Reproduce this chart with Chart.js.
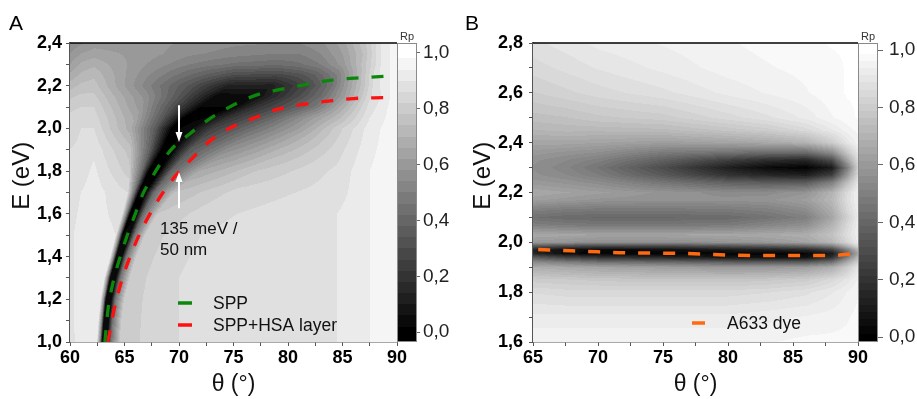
<!DOCTYPE html>
<html><head><meta charset="utf-8">
<script src="https://cdn.jsdelivr.net/npm/chart.js@4.4.1/dist/chart.umd.min.js"></script>
<style>
html,body{margin:0;padding:0;background:#fff;width:917px;height:399px;overflow:hidden}
#wa{position:absolute;left:0;top:0;width:460px;height:399px}
#wb{position:absolute;left:460px;top:0;width:457px;height:399px}
canvas{display:block}
</style></head><body>
<div id="wa"><canvas id="ca" width="460" height="399" style="width:460px;height:399px"></canvas></div>
<div id="wb"><canvas id="cb" width="457" height="399" style="width:457px;height:399px"></canvas></div>
<script>
// ---------------- DATA ----------------
// Panel A : dispersion curves
const sppTheta = [63.2, 63.5, 64.0, 64.6, 65.2, 66.0, 66.7, 67.2, 68.3, 69.5, 70.7, 72.2, 74.1, 77.0, 79.3, 81.6, 83.9, 86.2, 88.9];
const sppE     = [1.0, 1.157, 1.289, 1.398, 1.492, 1.601, 1.695, 1.742, 1.835, 1.913, 1.963, 2.023, 2.085, 2.155, 2.183, 2.205, 2.225, 2.236, 2.244];
const hsaTheta = [63.45, 63.7, 64.1, 64.75, 65.5, 66.4, 67.35, 68.26, 69.6, 71.2, 72.9, 74.6, 77.0, 79.1, 81.4, 83.7, 86.0, 88.8];
const hsaE     = [1.0, 1.06, 1.164, 1.289, 1.398, 1.508, 1.601, 1.679, 1.773, 1.859, 1.944, 2.0, 2.051, 2.09, 2.113, 2.128, 2.14, 2.144];
// Panel B : dye line
const dyeTheta = [65.4, 68, 70, 72, 74, 76, 78, 80, 82, 84, 86, 88, 89.7];
const dyeE     = [1.971, 1.966, 1.962, 1.958, 1.957, 1.956, 1.953, 1.949, 1.947, 1.947, 1.947, 1.947, 1.955];

// Panel A : reflectivity map Rp, one row per energy, knots (theta) per row
const energiesA = [1.0,1.1,1.2,1.3,1.4,1.5,1.6,1.7,1.8,1.9,2.0,2.05,2.1,2.15,2.2,2.25,2.3,2.35,2.4];
const knotThetaA = [
 [60,61,62.2,62.45,62.75,62.95,63.4,63.75,64.6,70,84.5,87.5,90],
 [60,61,62.2,62.6,62.9,63.1,63.55,63.9,64.75,70,84.5,87.5,90],
 [60,61,62.2,62.8,63.1,63.3,63.8,64.15,65.0,70,84.5,87.5,90],
 [60,61,62.2,63.15,63.45,63.7,64.2,64.6,65.5,70,84.5,87.5,90],
 [60,61,62.2,63.7,64.0,64.25,64.75,65.15,66.1,71,84.5,87.5,90],
 [60,61,62.2,64.2,64.55,64.8,65.45,65.9,66.9,72,84.5,87.5,90],
 [60,61,62.2,64.8,65.2,65.5,66.15,66.7,68.0,73,84.5,87.5,90],
 [60,61,62.2,65.3,65.9,66.3,66.95,67.7,69.5,75,84.5,87.5,90],
 [60,61,62.2,65.4,66.6,67.2,68.25,69.3,71.8,77,84.5,87.5,90],
 [60,61,62.2,65.5,67.3,68.4,69.5,71.0,74.5,79,84.5,87.5,90],
 [60,61,62.2,65.5,67.8,69.3,71.0,73.0,77.0,81,84.5,87.5,90],
 [60,61,62.2,66,68.5,70.4,72.4,74.5,78.5,82,84.5,87.5,90],
 [60,61,62.2,66.5,69.5,72.0,74.8,77.0,80,82.5,85,87.5,90],
 [60,61,62.2,67,70.5,73.5,77.0,79.0,81,83,85,87.5,90],
 [60,61,62.2,67,71,74.5,78.5,80.5,82,84,85.5,88,90],
 [60,61,62.2,67,71,75,79,81,82.5,84.5,86,88,90],
 [60,61,62.2,67,71,75,79,81,83,85,86.5,88.5,90],
 [60,61,62.2,67,71,75,79,81,83,85,87,88.5,90],
 [60,61,62.2,67,71,75,79,81,83,85,87,88.5,90]
];
const rpA = [
 [0.89,0.91,0.93,0.92,0.55,0.04,0.06,0.45,0.8,0.86,0.9,0.94,0.97],
 [0.89,0.92,0.93,0.92,0.55,0.03,0.05,0.45,0.8,0.86,0.9,0.94,0.97],
 [0.89,0.92,0.93,0.92,0.55,0.02,0.04,0.45,0.8,0.86,0.9,0.94,0.97],
 [0.89,0.92,0.93,0.92,0.55,0.02,0.04,0.45,0.8,0.86,0.9,0.94,0.97],
 [0.89,0.92,0.93,0.91,0.55,0.02,0.03,0.45,0.8,0.86,0.9,0.94,0.97],
 [0.89,0.92,0.93,0.9,0.52,0.02,0.03,0.45,0.8,0.86,0.9,0.94,0.97],
 [0.88,0.91,0.92,0.88,0.48,0.01,0.02,0.42,0.78,0.85,0.9,0.94,0.97],
 [0.87,0.9,0.92,0.86,0.44,0.01,0.02,0.42,0.74,0.83,0.88,0.94,0.97],
 [0.86,0.88,0.91,0.8,0.42,0.01,0.02,0.4,0.66,0.78,0.87,0.94,0.97],
 [0.86,0.87,0.89,0.76,0.38,0.01,0.02,0.35,0.56,0.7,0.84,0.93,0.97],
 [0.84,0.86,0.86,0.68,0.36,0.01,0.03,0.25,0.45,0.62,0.8,0.92,0.97],
 [0.83,0.84,0.84,0.65,0.34,0.01,0.02,0.2,0.4,0.6,0.72,0.9,0.97],
 [0.81,0.82,0.82,0.6,0.3,0.02,0.02,0.2,0.34,0.47,0.68,0.88,0.97],
 [0.77,0.79,0.79,0.56,0.3,0.03,0.05,0.18,0.3,0.42,0.6,0.85,0.97],
 [0.72,0.75,0.76,0.52,0.33,0.13,0.12,0.22,0.3,0.45,0.62,0.88,0.97],
 [0.67,0.71,0.73,0.55,0.42,0.3,0.28,0.32,0.38,0.5,0.66,0.88,0.97],
 [0.62,0.67,0.69,0.58,0.5,0.45,0.43,0.45,0.5,0.6,0.72,0.9,0.97],
 [0.58,0.62,0.64,0.6,0.55,0.52,0.5,0.5,0.54,0.62,0.75,0.9,0.97],
 [0.55,0.57,0.6,0.6,0.57,0.55,0.54,0.54,0.57,0.64,0.77,0.9,0.97]
];

// Panel B : reflectivity map Rp (regular grid)
const thetaB = [65, 67.5, 70, 75, 80, 83, 86, 88, 89.2, 90];
const energiesB = [1.6,1.7,1.8,1.85,1.9,1.92,1.94,1.955,1.97,1.985,2.0,2.03,2.07,2.1,2.13,2.17,2.2,2.24,2.27,2.3,2.33,2.36,2.4,2.45,2.5,2.6,2.7,2.8];
const rpB = [
 [0.96,0.96,0.96,0.96,0.96,0.96,0.97,0.97,0.97,0.98],
 [0.92,0.92,0.92,0.92,0.92,0.93,0.94,0.95,0.96,0.97],
 [0.86,0.85,0.85,0.85,0.85,0.86,0.88,0.91,0.94,0.96],
 [0.8,0.79,0.78,0.77,0.77,0.78,0.8,0.85,0.9,0.94],
 [0.68,0.66,0.64,0.62,0.6,0.6,0.62,0.68,0.8,0.9],
 [0.55,0.5,0.45,0.42,0.38,0.36,0.36,0.45,0.68,0.82],
 [0.35,0.25,0.2,0.15,0.08,0.06,0.06,0.18,0.5,0.72],
 [0.15,0.05,0.02,0.01,0.02,0.02,0.03,0.1,0.4,0.65],
 [0.13,0.05,0.03,0.05,0.1,0.12,0.15,0.25,0.5,0.72],
 [0.35,0.3,0.28,0.28,0.32,0.35,0.4,0.5,0.7,0.85],
 [0.6,0.58,0.56,0.56,0.58,0.6,0.64,0.72,0.84,0.92],
 [0.66,0.65,0.64,0.64,0.65,0.66,0.68,0.76,0.87,0.93],
 [0.5,0.48,0.47,0.47,0.48,0.52,0.56,0.7,0.85,0.93],
 [0.44,0.42,0.41,0.41,0.42,0.45,0.5,0.65,0.82,0.92],
 [0.5,0.48,0.47,0.47,0.48,0.5,0.55,0.68,0.85,0.93],
 [0.62,0.6,0.58,0.57,0.57,0.58,0.62,0.72,0.87,0.94],
 [0.66,0.64,0.62,0.58,0.55,0.55,0.58,0.7,0.86,0.94],
 [0.6,0.58,0.55,0.46,0.38,0.36,0.36,0.5,0.75,0.9],
 [0.57,0.54,0.49,0.35,0.2,0.15,0.12,0.25,0.6,0.85],
 [0.56,0.52,0.46,0.3,0.12,0.04,0.01,0.1,0.5,0.82],
 [0.57,0.54,0.5,0.38,0.25,0.18,0.15,0.3,0.65,0.86],
 [0.6,0.58,0.56,0.48,0.45,0.42,0.42,0.55,0.78,0.9],
 [0.65,0.65,0.64,0.62,0.64,0.66,0.7,0.8,0.9,0.95],
 [0.71,0.72,0.72,0.73,0.77,0.8,0.85,0.91,0.95,0.97],
 [0.75,0.76,0.78,0.8,0.85,0.88,0.92,0.96,0.98,0.99],
 [0.81,0.83,0.85,0.88,0.92,0.94,0.96,0.98,0.99,0.99],
 [0.85,0.87,0.89,0.92,0.95,0.96,0.97,0.98,0.99,0.99],
 [0.88,0.9,0.92,0.94,0.96,0.97,0.98,0.99,0.99,0.99]
];

// Tick positions and labels
const xTicksA = [60,62.5,65,67.5,70,72.5,75,77.5,80,82.5,85,87.5,90];
const xLabelsA = [60,65,70,75,80,85,90];
const yTicksA = [1.0,1.1,1.2,1.3,1.4,1.5,1.6,1.7,1.8,1.9,2.0,2.1,2.2,2.3,2.4];
const yLabelsA = [1.0,1.2,1.4,1.6,1.8,2.0,2.2,2.4];
const xTicksB = [65,67.5,70,72.5,75,77.5,80,82.5,85,87.5,90];
const xLabelsB = [65,70,75,80,85,90];
const yTicksB = [1.6,1.7,1.8,1.9,2.0,2.1,2.2,2.3,2.4,2.5,2.6,2.7,2.8];
const yLabelsB = [1.6,1.8,2.0,2.2,2.4,2.6,2.8];
const cbTicks = [0.0,0.2,0.4,0.6,0.8,1.0];

// Annotations (panel A), in data units
const arrowTheta = [70, 70];
const arrowFromE = [2.108, 1.626];
const arrowToE   = [1.936, 1.796];
const noteLines  = ['135 meV /', '50 nm'];
const noteTheta  = 68.26;
const noteE      = [1.504, 1.406];

// ---------------- DRAWING ----------------
const FONT = "'Liberation Sans', Arial, Helvetica, sans-serif";
const lerp = (a,b,t)=>a+(b-a)*t;
const clamp = (v,a,b)=>Math.max(a,Math.min(b,v));
const fmt = v => v.toFixed(1).replace('.', ',');
const has = (arr, v) => arr.some(a => Math.abs(a - v) < 1e-9);
const pts = (xs, ys) => xs.map((x,i)=>({x:x, y:ys[i]}));

function drawMesh(chart, energies, thetaRows, valueRows, step){
  const xs = chart.scales.x, ys = chart.scales.y, a = chart.chartArea;
  const L = Math.round(a.left), T = Math.round(a.top);
  const w = Math.round(a.right) - L, h = Math.round(a.bottom) - T;
  if (!chart.$heat || chart.$heat.width !== w || chart.$heat.height !== h){
    const off = document.createElement('canvas'); off.width = w; off.height = h;
    const octx = off.getContext('2d'); const img = octx.createImageData(w, h);
    const n = energies.length;
    const X = []; for (let i=0;i<w;i++) X.push(xs.getValueForPixel(L+i+0.5));
    for (let j=0;j<h;j++){
      const E = ys.getValueForPixel(T+j+0.5);
      let r = 0; while (r < n-2 && E > energies[r+1]) r++;
      const t = clamp((E-energies[r])/(energies[r+1]-energies[r]),0,1);
      const K = thetaRows[r].length, th = [], vv = [];
      for (let k=0;k<K;k++){ th.push(lerp(thetaRows[r][k],thetaRows[r+1][k],t)); vv.push(lerp(valueRows[r][k],valueRows[r+1][k],t)); }
      let k = 0;
      for (let i=0;i<w;i++){
        while (k < K-2 && X[i] > th[k+1]) k++;
        const u = clamp((X[i]-th[k])/(th[k+1]-th[k]),0,1);
        let v = lerp(vv[k],vv[k+1],u);
        v = Math.round(v/step)*step;
        const g = clamp(Math.round(v*255),0,255);
        const p = (j*w+i)*4; img.data[p]=g; img.data[p+1]=g; img.data[p+2]=g; img.data[p+3]=255;
      }
    }
    octx.putImageData(img,0,0);
    chart.$heat = off;
  }
  chart.ctx.drawImage(chart.$heat, L, T);
}

function drawColorbar(chart, step){
  const cb = chart.scales.cb, a = chart.chartArea, ctx = chart.ctx;
  const x0 = Math.round(a.right), wb = 20, top = Math.round(a.top), bot = Math.round(a.bottom);
  ctx.save();
  for (let y=top; y<bot; y++){
    let v = cb.getValueForPixel(y+0.5); v = Math.round(v/step)*step;
    const g = clamp(Math.round(v*255),0,255);
    ctx.fillStyle = 'rgb('+g+','+g+','+g+')'; ctx.fillRect(x0, y, wb, 1);
  }
  ctx.strokeStyle = '#8a8a8a'; ctx.lineWidth = 1;
  ctx.strokeRect(x0+0.5, top+0.5, wb-1, bot-top-1);
  ctx.fillStyle = '#333'; ctx.font = '11px '+FONT; ctx.textAlign = 'center'; ctx.textBaseline = 'alphabetic';
  ctx.fillText('Rp', x0+wb/2, top-3);
  ctx.restore();
}

function panelPlugin(o){
  return {
    id: 'panel'+o.letter,
    beforeDatasetsDraw(chart){
      const ctx = chart.ctx, a = chart.chartArea;
      ctx.save(); ctx.beginPath(); ctx.rect(a.left, a.top, a.right-a.left, a.bottom-a.top); ctx.clip();
      drawMesh(chart, o.energies, o.thetaRows, o.values, o.step);
      ctx.restore();
    },
    afterDatasetsDraw(chart){
      const ctx = chart.ctx, a = chart.chartArea, xs = chart.scales.x, ys = chart.scales.y;
      ctx.save();
      if (o.arrows){
        ctx.strokeStyle = '#fff'; ctx.fillStyle = '#fff'; ctx.lineWidth = 2;
        o.arrows.theta.forEach((th,i)=>{
          const x = xs.getPixelForValue(th), y1 = ys.getPixelForValue(o.arrows.from[i]), y2 = ys.getPixelForValue(o.arrows.to[i]);
          const dir = Math.sign(y2-y1), hl = 10, hw = 3.5;
          ctx.beginPath(); ctx.moveTo(x, y1); ctx.lineTo(x, y2 - dir*hl); ctx.stroke();
          ctx.beginPath(); ctx.moveTo(x, y2); ctx.lineTo(x-hw, y2-dir*hl); ctx.lineTo(x+hw, y2-dir*hl); ctx.closePath(); ctx.fill();
        });
      }
      if (o.note){
        ctx.fillStyle = '#111'; ctx.font = '17px '+FONT; ctx.textAlign = 'left'; ctx.textBaseline = 'alphabetic';
        o.note.lines.forEach((s,i)=> ctx.fillText(s, xs.getPixelForValue(o.note.theta), ys.getPixelForValue(o.note.E[i])));
      }
      // legend
      ctx.font = '17.5px '+FONT; ctx.textBaseline = 'middle'; ctx.textAlign = 'left';
      chart.data.datasets.forEach((ds,i)=>{
        const y = a.top + o.legend.y + i*o.legend.gap;
        ctx.strokeStyle = ds.borderColor; ctx.lineWidth = 3.5; ctx.setLineDash([]);
        ctx.beginPath(); ctx.moveTo(a.left+o.legend.x1, y); ctx.lineTo(a.left+o.legend.x2, y); ctx.stroke();
        ctx.fillStyle = '#111'; ctx.fillText(ds.label, a.left+o.legend.tx, y+1);
      });
      ctx.restore();
    },
    afterDraw(chart){
      const ctx = chart.ctx, a = chart.chartArea;
      drawColorbar(chart, o.step);
      ctx.save();
      ctx.strokeStyle = '#000'; ctx.lineWidth = 1.5;
      ctx.beginPath(); ctx.moveTo(a.left, a.top); ctx.lineTo(a.right, a.top); ctx.stroke();
      ctx.fillStyle = '#000'; ctx.font = '21px '+FONT; ctx.textAlign = 'left'; ctx.textBaseline = 'alphabetic';
      ctx.fillText(o.letter, o.letterX, 30);
      ctx.restore();
    }
  };
}

function makeChart(id, o){
  const tickFont = {family: FONT, size: 18, weight: 'bold'};
  return new Chart(document.getElementById(id), {
    type: 'scatter',
    data: {datasets: o.datasets},
    options: {
      responsive: false, animation: false, devicePixelRatio: 1, events: [],
      layout: {padding: {top: 43, left: 0, right: 0, bottom: 0}},
      plugins: {legend: {display: false}, tooltip: {enabled: false}},
      elements: {point: {radius: 0}},
      scales: {
        x: {type: 'linear', position: 'bottom', min: o.xMin, max: o.xMax, z: 1,
            afterBuildTicks: s => { s.ticks = o.xTicks.map(v => ({value: v})); },
            afterFit: s => { s.height = 57; },
            ticks: {autoSkip: false, maxRotation: 0, padding: 1, color: '#000', font: tickFont,
                    callback: v => has(o.xLabels, v) ? String(v) : ''},
            grid: {drawOnChartArea: false, drawTicks: true, tickLength: 4, color: '#555'},
            border: {color: '#555', width: 1.5},
            title: {display: true, text: 'θ (°)', color: '#111', font: {family: FONT, size: 23}, padding: {top: 0, bottom: 1}}},
        y: {type: 'linear', position: 'left', min: o.yMin, max: o.yMax, z: 1,
            afterBuildTicks: s => { s.ticks = o.yTicks.map(v => ({value: v})); },
            afterFit: s => { s.width = o.yAxisW; },
            ticks: {autoSkip: false, padding: o.yPad, color: '#000', font: tickFont,
                    callback: v => has(o.yLabels, v) ? fmt(v) : ''},
            grid: {drawOnChartArea: false, drawTicks: true, tickLength: 4, color: '#555'},
            border: {color: '#555', width: 1.5},
            title: {display: true, text: '     E (eV)', color: '#111', font: {family: FONT, size: 24}, padding: {top: o.yTitlePad, bottom: 0}}},
        cb: {type: 'linear', position: 'right', min: o.cbMin, max: o.cbMax, z: 1,
             afterBuildTicks: s => { s.ticks = cbTicks.map(v => ({value: v})); },
             afterFit: s => { s.width = o.cbAxisW; },
             ticks: {padding: o.cbPad, color: '#222', font: {family: FONT, size: 19}, callback: v => fmt(v)},
             grid: {drawOnChartArea: false, drawTicks: true, tickLength: o.cbTick, color: '#666'},
             border: {display: false}}
      }
    },
    plugins: [panelPlugin(o)]
  });
}

const lineStyle = {borderWidth: 3.3, borderDash: [12, 13], pointRadius: 0, showLine: true, fill: false, cubicInterpolationMode: 'monotone'};

makeChart('ca', {
  letter: 'A', letterX: 9,
  xMin: 60, xMax: 90, yMin: 1.0, yMax: 2.4,
  xTicks: xTicksA, xLabels: xLabelsA, yTicks: yTicksA, yLabels: yLabelsA,
  yAxisW: 70, yPad: 4, yTitlePad: 8, cbAxisW: 63, cbPad: 3, cbTick: 23,
  cbMin: -0.035, cbMax: 1.035, step: 0.04,
  energies: energiesA, thetaRows: knotThetaA, values: rpA,
  arrows: {theta: arrowTheta, from: arrowFromE, to: arrowToE},
  note: {lines: noteLines, theta: noteTheta, E: noteE},
  legend: {x1: 108, x2: 122, tx: 143, y: 260, gap: 22},
  datasets: [
    Object.assign({label: 'SPP', data: pts(sppTheta, sppE), borderColor: '#0b870b'}, lineStyle),
    Object.assign({label: 'SPP+HSA layer', data: pts(hsaTheta, hsaE), borderColor: '#ff1010'}, lineStyle)
  ]
});

makeChart('cb', {
  letter: 'B', letterX: 5,
  xMin: 65, xMax: 90, yMin: 1.6, yMax: 2.8,
  xTicks: xTicksB, xLabels: xLabelsB, yTicks: yTicksB, yLabels: yLabelsB,
  yAxisW: 73, yPad: 6, yTitlePad: 9, cbAxisW: 59, cbPad: 6, cbTick: 25,
  cbMin: -0.017, cbMax: 1.025, step: 0.025,
  energies: energiesB, thetaRows: energiesB.map(() => thetaB), values: rpB,
  legend: {x1: 159, x2: 172, tx: 194, y: 280, gap: 22},
  datasets: [
    Object.assign({label: 'A633 dye', data: pts(dyeTheta, dyeE), borderColor: '#ff6a10'}, lineStyle, {borderWidth: 3.5})
  ]
});
</script>
</body></html>
